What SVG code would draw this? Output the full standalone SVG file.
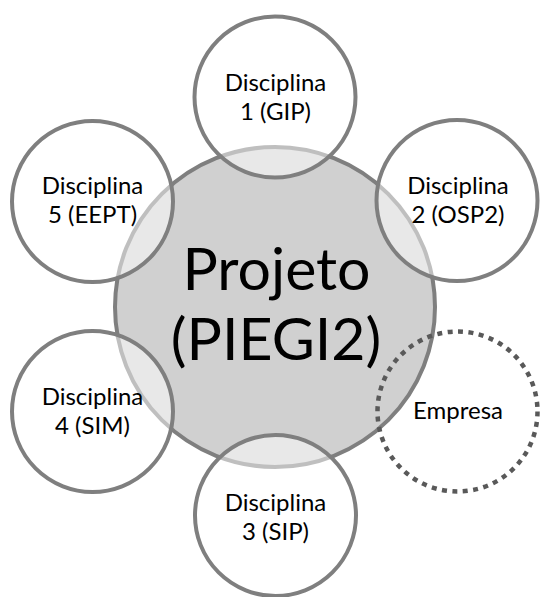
<svg xmlns="http://www.w3.org/2000/svg" width="541" height="597" viewBox="0 0 541 597">
  <style>
    .label { font-family: Lato, "Open Sans", sans-serif; fill: #000000; text-anchor: middle; }
    .small { font-size: 24px; }
    .big { font-size: 59px; }
    .core { fill: #d0d0d0; stroke: #7f7f7f; stroke-width: 4; }
    .disc { fill: #ffffff; fill-opacity: 0.5; stroke: #7f7f7f; stroke-width: 4; }
    .partner { fill: none; stroke: #595959; stroke-width: 4.5; stroke-dasharray: 5 5.47; }
  </style>

  <!-- central project -->
  <g id="projeto">
    <circle class="core" cx="275" cy="307" r="160"/>
    <text class="label big" x="276.5" y="290">Projeto</text>
    <text class="label big" x="276" y="360">(PIEGI2)</text>
  </g>

  <!-- surrounding disciplines, hexagonal layout -->
  <g id="disciplina1">
    <circle class="disc" cx="275" cy="97" r="80.5"/>
    <text class="label small" x="275.5" y="91">Disciplina</text>
    <text class="label small" x="275.5" y="120">1 (GIP)</text>
  </g>
  <g id="disciplina2">
    <circle class="disc" cx="457" cy="200.5" r="80.5"/>
    <text class="label small" x="458" y="193.5">Disciplina</text>
    <text class="label small" x="458" y="222.5">2 (OSP2)</text>
  </g>
  <g id="disciplina3">
    <circle class="disc" cx="275.5" cy="515.5" r="80.5"/>
    <text class="label small" x="275.5" y="510.5">Disciplina</text>
    <text class="label small" x="275.5" y="540">3 (SIP)</text>
  </g>
  <g id="disciplina4">
    <circle class="disc" cx="92.5" cy="411.5" r="80.5"/>
    <text class="label small" x="92.5" y="405">Disciplina</text>
    <text class="label small" x="92.5" y="433.5">4 (SIM)</text>
  </g>
  <g id="disciplina5">
    <circle class="disc" cx="92.5" cy="201.5" r="80.5"/>
    <text class="label small" x="92.5" y="194">Disciplina</text>
    <text class="label small" x="92.5" y="223">5 (EEPT)</text>
  </g>

  <!-- company, dotted outline -->
  <g id="empresa">
    <circle class="partner" cx="457.5" cy="411.5" r="80"/>
    <text class="label small" x="458" y="419">Empresa</text>
  </g>
</svg>
